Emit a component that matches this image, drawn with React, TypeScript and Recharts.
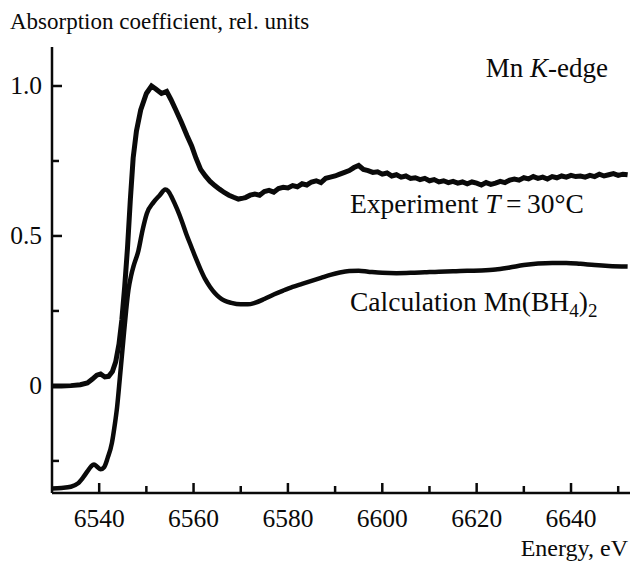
import React from 'react';
import { LineChart, Line, XAxis, YAxis } from 'recharts';

const FONT = '"Liberation Serif", "DejaVu Serif", "Times New Roman", serif';
const INK = '#0a0a0a';

// Experiment, T = 30°C (energy in eV, absorption rel. units)
const expEnergy = [
  6530, 6532, 6534, 6536, 6537.5, 6538.5, 6539.5, 6540.3, 6541.2, 6542, 6542.8, 6543.5, 6544.2, 6544.8,
  6545.4, 6546, 6546.6, 6547.2, 6547.9, 6548.8, 6550, 6551.1, 6552, 6553.2, 6554.3, 6555.2, 6556.1,
  6557.4, 6558.6, 6559.6, 6560.5, 6561.5, 6562.5, 6563.5, 6564.5, 6565.5, 6566.5, 6567.5, 6568.5,
  6569.5, 6570.5, 6571, 6572, 6573, 6574, 6575, 6576, 6577, 6578, 6579, 6580, 6581, 6582, 6583, 6584,
  6585, 6586, 6587, 6588, 6589, 6590, 6591, 6592, 6593, 6594, 6595, 6596, 6597, 6598, 6599, 6600,
  6601, 6602, 6603, 6604, 6605, 6606, 6607, 6608, 6609, 6610, 6611, 6612, 6613, 6614, 6615, 6616,
  6617, 6618, 6619, 6620, 6621, 6622, 6623, 6624, 6625, 6626, 6627, 6628, 6629, 6630, 6631, 6632,
  6633, 6634, 6635, 6636, 6637, 6638, 6639, 6640, 6641, 6642, 6643, 6644, 6645, 6646, 6647, 6648,
  6649, 6650, 6651, 6652,
];
const expValue = [
  0.0, 0.0, 0.001, 0.004, 0.01, 0.022, 0.036, 0.04, 0.03, 0.032, 0.048, 0.08, 0.14, 0.22,
  0.33, 0.46, 0.62, 0.76, 0.85, 0.92, 0.975, 1.0, 0.99, 0.975, 0.982, 0.955, 0.925,
  0.88, 0.835, 0.8, 0.76, 0.722, 0.7, 0.682, 0.668, 0.656, 0.645, 0.636, 0.629,
  0.623, 0.626, 0.628, 0.636, 0.64, 0.636, 0.648, 0.652, 0.646, 0.658, 0.662, 0.66, 0.668, 0.664, 0.674, 0.67,
  0.68, 0.684, 0.678, 0.692, 0.696, 0.7, 0.706, 0.712, 0.718, 0.728, 0.735, 0.722, 0.718, 0.712, 0.714, 0.706,
  0.71, 0.7, 0.704, 0.696, 0.7, 0.692, 0.694, 0.688, 0.692, 0.684, 0.688, 0.68, 0.684, 0.678, 0.682, 0.676,
  0.68, 0.674, 0.68, 0.676, 0.67, 0.678, 0.672, 0.676, 0.682, 0.678, 0.686, 0.69, 0.686, 0.694, 0.69, 0.698,
  0.692, 0.696, 0.69, 0.698, 0.694, 0.7, 0.696, 0.702, 0.698, 0.7, 0.696, 0.702, 0.698, 0.706, 0.7, 0.704,
  0.708, 0.702, 0.706, 0.704,
];

// Calculation Mn(BH4)2
const calcEnergy = [
  6530, 6532, 6534, 6535.5, 6536.6, 6537.5, 6538.3, 6538.9, 6539.6, 6540.3, 6541, 6541.8, 6542.7,
  6543.3, 6543.8, 6544.4, 6545.1, 6545.7, 6546.2, 6546.8, 6547.3, 6548.3, 6549.2, 6550.1, 6551.5,
  6552.8, 6554, 6554.6, 6555.5, 6556.5, 6557.5, 6558.5, 6559.5, 6560.5, 6561.5, 6562.5, 6563.5,
  6564.5, 6565.5, 6566.5, 6568, 6570, 6571.5, 6573, 6575, 6577, 6579, 6581, 6583, 6585, 6587, 6589,
  6591, 6593, 6595, 6597, 6600, 6603, 6606, 6609, 6612, 6615, 6618, 6621, 6624, 6627, 6630, 6633,
  6636, 6639, 6642, 6645, 6648, 6652,
];
const calcValue = [
  -0.342, -0.34, -0.336, -0.325, -0.305, -0.285, -0.268, -0.262, -0.27, -0.278, -0.272, -0.24, -0.19,
  -0.13, -0.07, 0.03, 0.15, 0.25, 0.32, 0.37, 0.4, 0.45, 0.52, 0.575, 0.612,
  0.635, 0.655, 0.65, 0.625, 0.59, 0.55, 0.505, 0.465, 0.425, 0.388, 0.355, 0.33,
  0.31, 0.295, 0.285, 0.277, 0.272, 0.272, 0.277, 0.29, 0.305, 0.318, 0.33, 0.34, 0.35, 0.36, 0.37,
  0.378, 0.383, 0.384, 0.381, 0.377, 0.376, 0.377, 0.379, 0.381, 0.382, 0.384, 0.385, 0.388, 0.395, 0.403, 0.408,
  0.41, 0.41, 0.407, 0.403, 0.4, 0.398,
];

const xTicks = [6540, 6550, 6560, 6570, 6580, 6590, 6600, 6610, 6620, 6630, 6640, 6650];
const xLabels = [6540, 6560, 6580, 6600, 6620, 6640];
const yTicks = [-0.25, 0, 0.25, 0.5, 0.75, 1.0];
const yLabels: Record<string, string> = { '0': '0', '0.5': '0.5', '1': '1.0' };

const expData = expEnergy.map((e, i) => ({ e, v: expValue[i] }));
const calcData = calcEnergy.map((e, i) => ({ e, v: calcValue[i] }));

// ticks point inward; labelled ones are a bit longer
const XTick = (props: any) => {
  const { x, y, payload } = props;
  const major = xLabels.includes(payload.value);
  return (
    <g>
      <path d={`M${x},${y}v${major ? -10 : -7}`} stroke={INK} strokeWidth={2.5} fill="none" />
      {major && (
        <text x={x} y={y + 34} textAnchor="middle" fontSize={25.5} fontFamily={FONT} fill={INK}>
          {payload.value}
        </text>
      )}
    </g>
  );
};

const YTick = (props: any) => {
  const { x, y, payload } = props;
  const label = yLabels[String(payload.value)];
  return (
    <g>
      <path d={`M${x},${y}h${label ? 10 : 7}`} stroke={INK} strokeWidth={2.5} fill="none" />
      {label && (
        <text x={x - 10} y={y + 8.5} textAnchor="end" fontSize={25.5} fontFamily={FONT} fill={INK}>
          {label}
        </text>
      )}
    </g>
  );
};

export default function App() {
  return (
    <div style={{ position: 'absolute', left: 0, top: 0, width: 630, height: 561, background: '#fff' }}>
      <LineChart width={630} height={561} margin={{ top: 47, right: 0, bottom: 0, left: 0 }}>
        <XAxis
          type="number"
          dataKey="e"
          domain={[6530, 6652.5]}
          ticks={xTicks}
          interval={0}
          height={68}
          tickSize={0}
          tickMargin={0}
          tickLine={false}
          tick={<XTick />}
          axisLine={{ stroke: INK, strokeWidth: 2.5 }}
        />
        <YAxis
          type="number"
          domain={[-0.357, 1.13]}
          ticks={yTicks}
          interval={0}
          width={52}
          tickSize={0}
          tickMargin={0}
          tickLine={false}
          tick={<YTick />}
          axisLine={{ stroke: INK, strokeWidth: 2.5 }}
        />
        <Line data={expData} dataKey="v" type="linear" stroke={INK} strokeWidth={5} dot={false} isAnimationActive={false} />
        <Line data={calcData} dataKey="v" type="monotone" stroke={INK} strokeWidth={4.5} dot={false} isAnimationActive={false} />
      </LineChart>
      <svg width={630} height={561} style={{ position: 'absolute', left: 0, top: 0, pointerEvents: 'none' }} fontFamily={FONT} fill={INK}>
        <text x={10} y={29} fontSize={23}>Absorption coefficient, rel. units</text>
        <text x={608} y={77} fontSize={27} textAnchor="end">
          Mn <tspan fontStyle="italic">K</tspan>-edge
        </text>
        <text x={350} y={213} fontSize={27.5}>
          Experiment <tspan fontStyle="italic">T</tspan>{'\u2009=\u200930°C'}
        </text>
        <text x={350} y={311} fontSize={27.5}>
          Calculation Mn(BH<tspan fontSize={19} dy={6}>4</tspan>
          <tspan dy={-6}>)</tspan>
          <tspan fontSize={19} dy={6}>2</tspan>
        </text>
        <text x={628} y={556} fontSize={24} textAnchor="end">Energy, eV</text>
      </svg>
    </div>
  );
}
